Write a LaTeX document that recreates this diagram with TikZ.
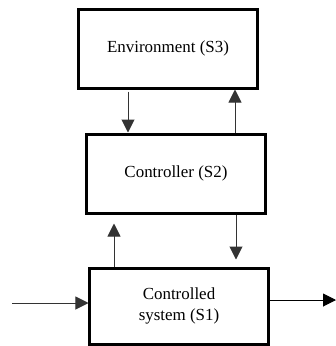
\documentclass[tikz,border=0pt]{standalone}
\usepackage{fontspec}
\setmainfont{Liberation Serif}
\usetikzlibrary{arrows.meta}
\begin{document}
\begin{tikzpicture}[x=1bp,y=-1bp,
  block/.style={draw, line width=3bp, minimum width=#1, inner sep=0pt, align=center,
                font=\fontsize{17}{21}\selectfont},
  tip/.style={-{Triangle[width=13bp,length=13bp]}},
  link/.style={draw=black!80, line width=1bp, tip}]
\useasboundingbox (0,0) rectangle (336,346);
\fill[white] (0,0) rectangle (336,346);
% the three subsystems
\node[block=178bp, minimum height=79bp] (env) at (168,48.5) {Environment (S3)};
\node[block=178bp, minimum height=79bp] (ctl) at (176,173.5) {Controller (S2)};
\node[block=178bp, minimum height=76bp] (sys) at (179,306) {Controlled\\system (S1)};
% free ends of the outer input and output
\coordinate (in) at (12,303);
\coordinate (out) at (336,300);
% signal paths between the subsystems
\draw[link] (env.south -| 128,0) ++(0,2) -- (ctl.north -| 128,0);
\draw[link] (ctl.north -| 235,0) -- (env.south -| 235,0);
\draw[link] (ctl.south -| 236,0) -- ([yshift=7bp]sys.north -| 236,0);
\draw[link] (sys.north -| 114,0) -- ([yshift=-9bp]ctl.south -| 114,0);
\draw[link] (in) -- (sys.west |- in);
\draw[draw=black, line width=1bp, tip] (sys.east |- out) -- (out);
\end{tikzpicture}
\end{document}
